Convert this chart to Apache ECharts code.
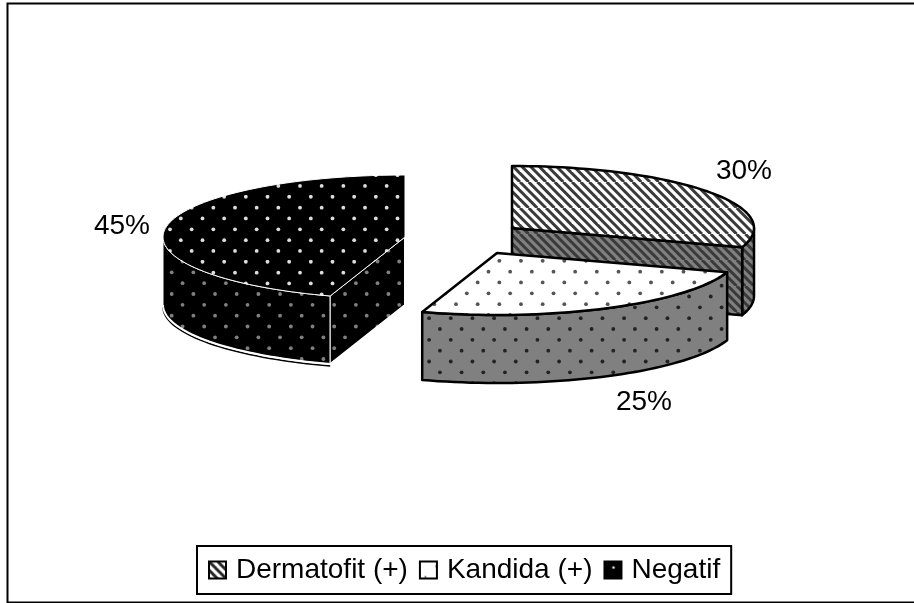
<!DOCTYPE html>
<html><head><meta charset="utf-8">
<style>html,body{margin:0;padding:0;background:#fff}#c{width:914px;height:603px}</style>
<script src="https://cdn.jsdelivr.net/npm/echarts@6/dist/echarts.min.js"></script>
</head><body><div id="c"></div>
<script>
const categories = ['Dermatofit (+)', 'Kandida (+)', 'Negatif'];
const seriesValues = [30, 25, 45];

function tile(size, draw) {
  const c = document.createElement('canvas');
  c.width = c.height = size;
  draw(c.getContext('2d'), size);
  return { image: c, repeat: 'repeat' };
}
function stripes(bg, fg) {
  return tile(26, (g, s) => {
    g.fillStyle = bg; g.fillRect(0, 0, s, s);
    g.strokeStyle = fg; g.lineWidth = 3;
    for (let i = -s; i <= 2 * s; i += s / 3) {
      g.beginPath(); g.moveTo(i, 0); g.lineTo(i + s, s); g.stroke();
    }
  });
}
function dots(bg, fg, px, py, r) {
  return tile(65, (g, s) => {
    g.fillStyle = bg; g.fillRect(0, 0, s, s);
    g.fillStyle = fg;
    const p = s / 3;
    for (let i = -1; i <= 4; i++) for (let j = -1; j <= 4; j++) {
      [[0, 0], [p / 2, p / 2]].forEach(o => {
        g.beginPath(); g.arc(px + i * p + o[0], py + j * p + o[1], r, 0, 7); g.fill();
      });
    }
  });
}
const looks = [
  { top: stripes('#fff', '#3a3a3a'), side: stripes('#808080', '#3a3a3a'), edge: '#000', w: 2.5,
    cx: 512, cy: 228 },
  { top: dots('#fff', '#555', 1, 0.8, 1.9), side: dots('#808080', '#222', 6.6, 4, 1.9), edge: '#000', w: 2.5,
    cx: 497, cy: 253 },
  { top: dots('#000', '#ddd', 7.5, 1.8, 1.9), side: dots('#000', '#808080', 9.2, 1.5, 1.9), edge: '#fff', w: 1,
    cx: 405, cy: 237 }
];
const RX = 242, RY = 62, DEPTH = 68;
const labelPos = [[744, 171], [644, 402], [122, 226]];
const total = seriesValues.reduce((a, b) => a + b, 0);

function pt(l, deg, dy) {
  const a = deg * Math.PI / 180;
  return [l.cx + RX * Math.sin(a), l.cy - RY * Math.cos(a) + (dy || 0)];
}
function arc(l, a0, a1, dy) {
  const out = [], n = Math.max(2, Math.ceil(Math.abs(a1 - a0) / 2));
  for (let i = 0; i <= n; i++) out.push(pt(l, a0 + (a1 - a0) * i / n, dy));
  return out;
}
function renderSlice(idx) {
  return function (params, api) {
    const v = api.value(0);
    let before = 0;
    for (let i = 0; i < idx; i++) before += seriesValues[i];
    const a0 = before / total * 360, a1 = (before + v) / total * 360;
    const l = looks[idx], kids = [];
    const style = fill => ({ fill, stroke: l.edge, lineWidth: l.w, lineJoin: 'round' });
    const apex = [l.cx, l.cy], apexB = [l.cx, l.cy + DEPTH];
    // outer wall: the front half of the rim
    const s0 = Math.max(a0, 90), s1 = Math.min(a1, 270);
    if (s1 > s0) {
      kids.push({ type: 'polygon', shape: { points: arc(l, s0, s1).concat(arc(l, s1, s0, DEPTH)) }, style: style(l.side) });
      if (idx === 2) {
        kids.push({ type: 'polyline', shape: { points: arc(l, s0, s1, DEPTH + 2) }, style: { fill: 'none', stroke: '#000', lineWidth: 1.5 } });
        kids.push({ type: 'polyline', shape: { points: arc(l, s0, s1, DEPTH) }, style: { fill: 'none', stroke: '#fff', lineWidth: 2 } });
      }
    }
    // radial faces turned toward the viewer
    [[a0, -90], [a1, 90]].forEach(([a, n]) => {
      if (Math.cos((a + n) * Math.PI / 180) < -0.01) {
        kids.push({ type: 'polygon', shape: { points: [apex, pt(l, a), pt(l, a, DEPTH), apexB] }, style: style(l.side) });
        if (idx === 2) {
          kids.push({ type: 'polyline', shape: { points: [pt(l, a, DEPTH), apexB, apex.slice()] }, style: { fill: 'none', stroke: '#fff', lineWidth: 2 } });
        }
      }
    });
    // top surface
    kids.push({ type: 'polygon', shape: { points: [apex].concat(arc(l, a0, a1)) }, style: style(l.top) });
    // percentage label
    kids.push({ type: 'text', style: { x: labelPos[idx][0], y: labelPos[idx][1], text: v + '%',
      fill: '#000', font: '28px "Liberation Sans", Arial, sans-serif', align: 'center', verticalAlign: 'middle' } });
    return { type: 'group', children: kids };
  };
}
const legendIcons = [
  stripes('#fff', '#262626'),
  dots('#fff', '#444', 16.3, 4.7, 1),
  dots('#000', '#eee', 9, 6, 1.3)
];
const chart = echarts.init(document.getElementById('c'), null, { renderer: 'canvas' });
chart.setOption({
  animation: false,
  backgroundColor: '#fff',
  graphic: [{ type: 'rect', z: -1, silent: true, shape: { x: 7.5, y: 3.5, width: 920, height: 599 },
    style: { fill: 'none', stroke: '#000', lineWidth: 2 } }],
  legend: {
    left: 197, top: 546, orient: 'horizontal', padding: [10, 11, 10, 11], itemGap: 11,
    itemWidth: 17, itemHeight: 17, borderColor: '#000', borderWidth: 2, backgroundColor: '#fff',
    selectedMode: false,
    textStyle: { color: '#000', fontSize: 28, fontFamily: '"Liberation Sans", Arial, sans-serif', padding: [4, 0, 0, 5] },
    data: categories.map((name, i) => ({ name, icon: 'rect',
      itemStyle: { color: legendIcons[i], borderColor: '#000', borderWidth: 2 } }))
  },
  series: categories.map((name, i) => ({
    type: 'custom', name, coordinateSystem: 'none', silent: true,
    renderItem: renderSlice(i),
    encode: { value: 0 },
    data: [[seriesValues[i]]]
  }))
});
</script></body></html>
